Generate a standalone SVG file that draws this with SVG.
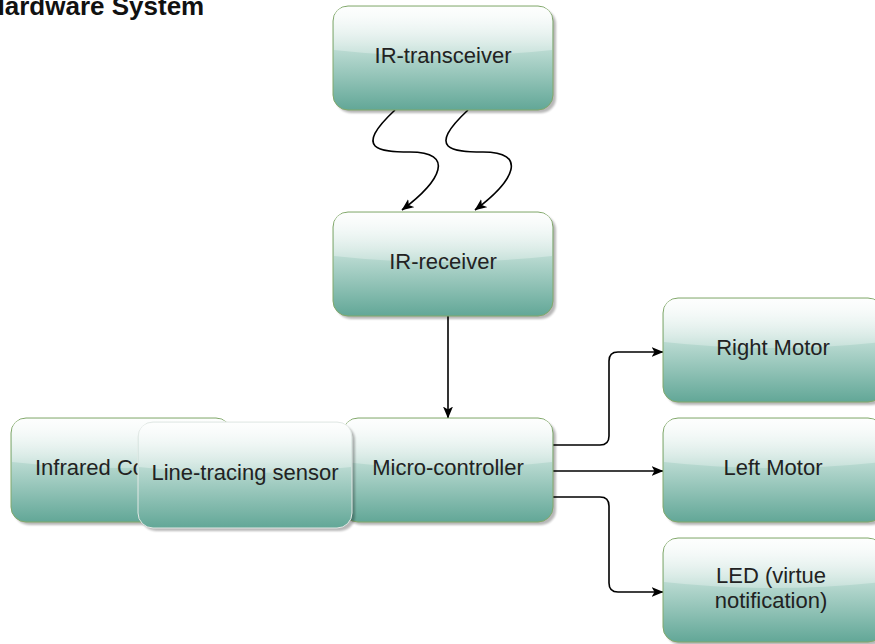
<svg xmlns="http://www.w3.org/2000/svg" width="875" height="644" viewBox="0 0 875 644">
  <defs>
    <linearGradient id="base" x1="0" y1="0" x2="0" y2="1">
      <stop offset="0" stop-color="#f4f9f7"/>
      <stop offset="0.45" stop-color="#b6d8cf"/>
      <stop offset="1" stop-color="#62a797"/>
    </linearGradient>
    <linearGradient id="glass" x1="0" y1="0" x2="0" y2="1">
      <stop offset="0" stop-color="#ffffff" stop-opacity="0.85"/>
      <stop offset="1" stop-color="#ffffff" stop-opacity="0.25"/>
    </linearGradient>
    <filter id="sh" x="-10%" y="-10%" width="130%" height="140%">
      <feGaussianBlur stdDeviation="1.2"/>
    </filter>
    <marker id="arr" viewBox="0 0 12 12" refX="11.5" refY="6" markerWidth="12" markerHeight="12" orient="auto" markerUnits="userSpaceOnUse">
      <path d="M0,1 L12,6 L0,11 L3,6 z" fill="#000"/>
    </marker>
  </defs>
  <style>
    .box { fill: url(#base); stroke: #82a86a; stroke-width: 1; }
    .plain { fill: url(#base); stroke: #e2e8e5; stroke-width: 1; }
    .gl { fill: url(#glass); stroke: none; }
    .shd { fill: #000; opacity: 0.28; filter: url(#sh); }
    .lbl { font-family: "Liberation Sans", Arial, Helvetica, sans-serif; font-size: 22px; fill: #222; text-anchor: middle; }
    .title { font-family: "Liberation Sans", Arial, Helvetica, sans-serif; font-size: 26px; font-weight: bold; fill: #111; }
    .edge { fill: none; stroke: #000; stroke-width: 1.6; }
  </style>

  <text class="title" x="-14" y="15">Hardware System</text>

  <g id="connectors">
    <path class="edge" d="M395,110 C352,150 380,152 410,152 C455,152 442,180 402,210" marker-end="url(#arr)"/>
    <path class="edge" d="M468,110 C425,150 453,152 483,152 C528,152 515,180 475,210" marker-end="url(#arr)"/>
    <path class="edge" d="M448,316 L448,418" marker-end="url(#arr)"/>
    <path class="edge" d="M553,445 L600,445 Q609,445 609,436 L609,361 Q609,352 618,352 L663,352" marker-end="url(#arr)"/>
    <path class="edge" d="M553,471 L663,471" marker-end="url(#arr)"/>
    <path class="edge" d="M553,497 L600,497 Q609,497 609,506 L609,583 Q609,592 618,592 L663,592" marker-end="url(#arr)"/>
  </g>

  <g id="ir-transceiver">
    <rect class="shd" x="336" y="9" width="220" height="104" rx="15"/>
    <rect class="box" x="333" y="6" width="220" height="104" rx="15"/>
    <path class="gl" d="M348,7 L538,7 Q552,7 552,21 L552,50 Q443,62 334,50 L334,21 Q334,7 348,7 z"/>
    <text class="lbl" x="443" y="63">IR-transceiver</text>
  </g>

  <g id="ir-receiver">
    <rect class="shd" x="336" y="215" width="220" height="104" rx="15"/>
    <rect class="box" x="333" y="212" width="220" height="104" rx="15"/>
    <path class="gl" d="M348,213 L538,213 Q552,213 552,227 L552,256 Q443,268 334,256 L334,227 Q334,213 348,213 z"/>
    <text class="lbl" x="443" y="269">IR-receiver</text>
  </g>

  <g id="infrared-controller">
    <rect class="shd" x="14" y="421" width="220" height="104" rx="15"/>
    <rect class="box" x="11" y="418" width="220" height="104" rx="15"/>
    <path class="gl" d="M26,419 L216,419 Q230,419 230,433 L230,462 Q121,474 12,462 L12,433 Q12,419 26,419 z"/>
    <text class="lbl" x="35" y="475" style="text-anchor:start">Infrared Co</text>
  </g>

  <g id="micro-controller">
    <rect class="shd" x="346" y="421" width="210" height="104" rx="15"/>
    <rect class="box" x="343" y="418" width="210" height="104" rx="15"/>
    <path class="gl" d="M358,419 L538,419 Q552,419 552,433 L552,462 Q448,474 344,462 L344,433 Q344,419 358,419 z"/>
    <text class="lbl" x="448" y="475">Micro-controller</text>
  </g>

  <g id="line-tracing-sensor">
    <rect class="shd" x="141" y="425" width="214" height="106" rx="15"/>
    <rect class="plain" x="138" y="422" width="214" height="106" rx="15"/>
    <path class="gl" d="M153,423 L337,423 Q351,423 351,437 L351,467 Q245,479 139,467 L139,437 Q139,423 153,423 z"/>
    <text class="lbl" x="245" y="480">Line-tracing sensor</text>
  </g>

  <g id="right-motor">
    <rect class="shd" x="666" y="301" width="220" height="104" rx="15"/>
    <rect class="box" x="663" y="298" width="220" height="104" rx="15"/>
    <path class="gl" d="M678,299 L868,299 Q882,299 882,313 L882,342 Q773,354 664,342 L664,313 Q664,299 678,299 z"/>
    <text class="lbl" x="773" y="355">Right Motor</text>
  </g>

  <g id="left-motor">
    <rect class="shd" x="666" y="421" width="220" height="104" rx="15"/>
    <rect class="box" x="663" y="418" width="220" height="104" rx="15"/>
    <path class="gl" d="M678,419 L868,419 Q882,419 882,433 L882,462 Q773,474 664,462 L664,433 Q664,419 678,419 z"/>
    <text class="lbl" x="773" y="475">Left Motor</text>
  </g>

  <g id="led">
    <rect class="shd" x="666" y="541" width="220" height="104" rx="15"/>
    <rect class="box" x="663" y="538" width="220" height="104" rx="15"/>
    <path class="gl" d="M678,539 L868,539 Q882,539 882,553 L882,582 Q773,594 664,582 L664,553 Q664,539 678,539 z"/>
    <text class="lbl" x="771" y="583">LED (virtue</text>
    <text class="lbl" x="771" y="608">notification)</text>
  </g>
</svg>
